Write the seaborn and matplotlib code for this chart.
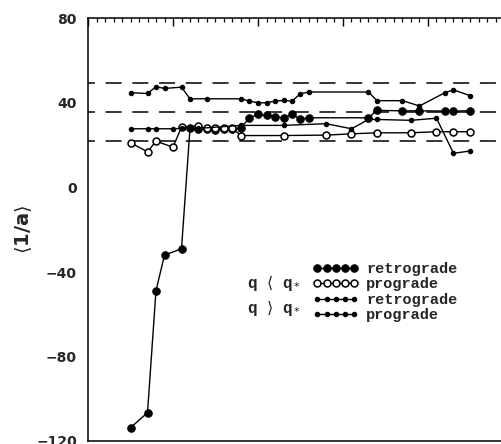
import numpy as np
import pandas as pd
import matplotlib
matplotlib.use("Agg")
import matplotlib.pyplot as plt
from matplotlib.ticker import MultipleLocator, NullFormatter
import seaborn as sns

# q < q* , retrograde orbits
x_ret_in = [5, 7, 8, 9, 11, 12, 13, 14, 15, 16, 17, 18, 19, 20, 21, 22, 23, 24, 25, 26,
            33, 34, 37, 39, 42, 43, 45]
y_ret_in = [-113.7, -106.6, -48.8, -32.0, -29.0, 28.0, 27.5, 27.5, 27.2, 27.5, 27.5, 28.3,
            33.0, 34.6, 34.1, 33.6, 33.0, 34.6, 32.4, 33.0,
            33.0, 36.5, 36.3, 36.3, 36.2, 36.2, 36.3]

# q < q* , prograde orbits
x_pro_in = [5, 7, 8, 10, 11, 13, 14, 15, 16, 17, 18, 23, 28, 31, 34, 38, 41, 43, 45]
y_pro_in = [21.2, 16.9, 21.9, 19.1, 28.6, 29.0, 28.0, 28.0, 28.0, 28.0, 24.6, 24.6,
            24.8, 25.4, 25.9, 25.9, 26.4, 26.4, 26.4]

# q > q* , retrograde orbits
x_ret_out = [5, 7, 8, 10, 11, 13, 18, 23, 28, 31, 33, 34, 38, 41, 43, 45]
y_ret_out = [27.8, 27.8, 27.8, 27.8, 28.0, 28.0, 29.4, 29.4, 30.2, 27.8, 32.2, 32.2,
             31.8, 32.8, 16.2, 17.3]

# q > q* , prograde orbits
x_pro_out = [5, 7, 8, 9, 11, 12, 14, 18, 19, 20, 21, 22, 23, 24, 25, 26,
             33, 34, 37, 39, 42, 43, 45]
y_pro_out = [44.9, 44.5, 47.7, 46.9, 47.5, 42.0, 42.0, 42.0, 40.9, 40.1, 40.1, 40.9,
             41.2, 40.9, 44.4, 45.2, 45.2, 41.1, 41.1, 38.6, 44.9, 46.2, 43.4]

# reference levels
ref_levels = [49.5, 35.8, 21.8]

legend_labels = ["retrograde", "prograde", "retrograde", "prograde"]
group_labels = [r"q $\langle$ q$_*$", r"q $\rangle$ q$_*$"]
y_label = r"$\langle$1/a$\rangle$"
y_ticks = [-120, -80, -40, 0, 40, 80]

sns.set_style("white")
plt.rcParams["mathtext.fontset"] = "dejavusans"
plt.rcParams["font.family"] = ["DejaVu Sans"]

fig = plt.figure(figsize=(5.02, 4.44), dpi=100)
W, H = 502, 444
left_px, top_px, bottom_px = 88, 18.5, 441
x_min, x_max = 0, 50
px_per_x = 8.5
width_px = (x_max - x_min) * px_per_x
ax = fig.add_axes([left_px / W, (H - bottom_px) / H, width_px / W, (bottom_px - top_px) / H])

lw = 1.0
for lev in ref_levels:
    ax.axhline(lev, color="black", lw=1.1, ls=(6, (10.5, 7.0)), zorder=1)

line_style = dict(color="black", lw=lw, sort=False, estimator=None)
sns.lineplot(x=x_ret_in, y=y_ret_in, ax=ax, marker="o", markersize=5.4,
             markerfacecolor="black", markeredgecolor="black", **line_style)
sns.lineplot(x=x_pro_in, y=y_pro_in, ax=ax, marker="o", markersize=5.0,
             markerfacecolor="white", markeredgecolor="black", markeredgewidth=1.1,
             **line_style)
sns.lineplot(x=x_ret_out, y=y_ret_out, ax=ax, marker="o", markersize=3.2,
             markerfacecolor="black", markeredgecolor="black", **line_style)
sns.lineplot(x=x_pro_out, y=y_pro_out, ax=ax, marker="o", markersize=3.2,
             markerfacecolor="black", markeredgecolor="black", **line_style)

ax.set_xlim(x_min, x_max)
ax.set_ylim(-120, 80)
ax.yaxis.set_major_locator(MultipleLocator(40))
ax.yaxis.set_minor_locator(MultipleLocator(5))
ax.xaxis.set_major_locator(MultipleLocator(10))
ax.xaxis.set_minor_locator(MultipleLocator(1))
ax.set_yticks(y_ticks)
ax.xaxis.set_major_formatter(NullFormatter())

ax.tick_params(which="both", direction="in", top=True, right=True, color="black",
               labelbottom=False)
ax.tick_params(which="major", length=6, width=1.0)
ax.tick_params(which="minor", length=3, width=0.9)
ax.tick_params(axis="y", which="major", pad=8)
for lab in ax.get_yticklabels():
    lab.set_fontweight("bold")
    lab.set_fontsize(10)

for sp in ax.spines.values():
    sp.set_color("black")
    sp.set_linewidth(1.1)

ax.set_ylabel(y_label, fontsize=14, fontweight="bold")
ax.yaxis.set_label_coords(-0.128, 0.5)

handles = ax.get_lines()[len(ref_levels):]
leg = ax.legend(handles, legend_labels, numpoints=5, frameon=False,
                loc="upper left", bbox_to_anchor=(0.529, 0.424),
                borderaxespad=0, borderpad=0, handlelength=3.0, handletextpad=0.5,
                labelspacing=0.1,
                prop={"family": "Liberation Mono", "weight": "bold", "size": 11})

ax.text(0.374, 0.374, group_labels[0], transform=ax.transAxes, ha="left", va="center",
        fontsize=11.5, fontweight="bold", family="Liberation Mono")
ax.text(0.374, 0.315, group_labels[1], transform=ax.transAxes, ha="left", va="center",
        fontsize=11.5, fontweight="bold", family="Liberation Mono")

fig.savefig("out.png", dpi=100)
